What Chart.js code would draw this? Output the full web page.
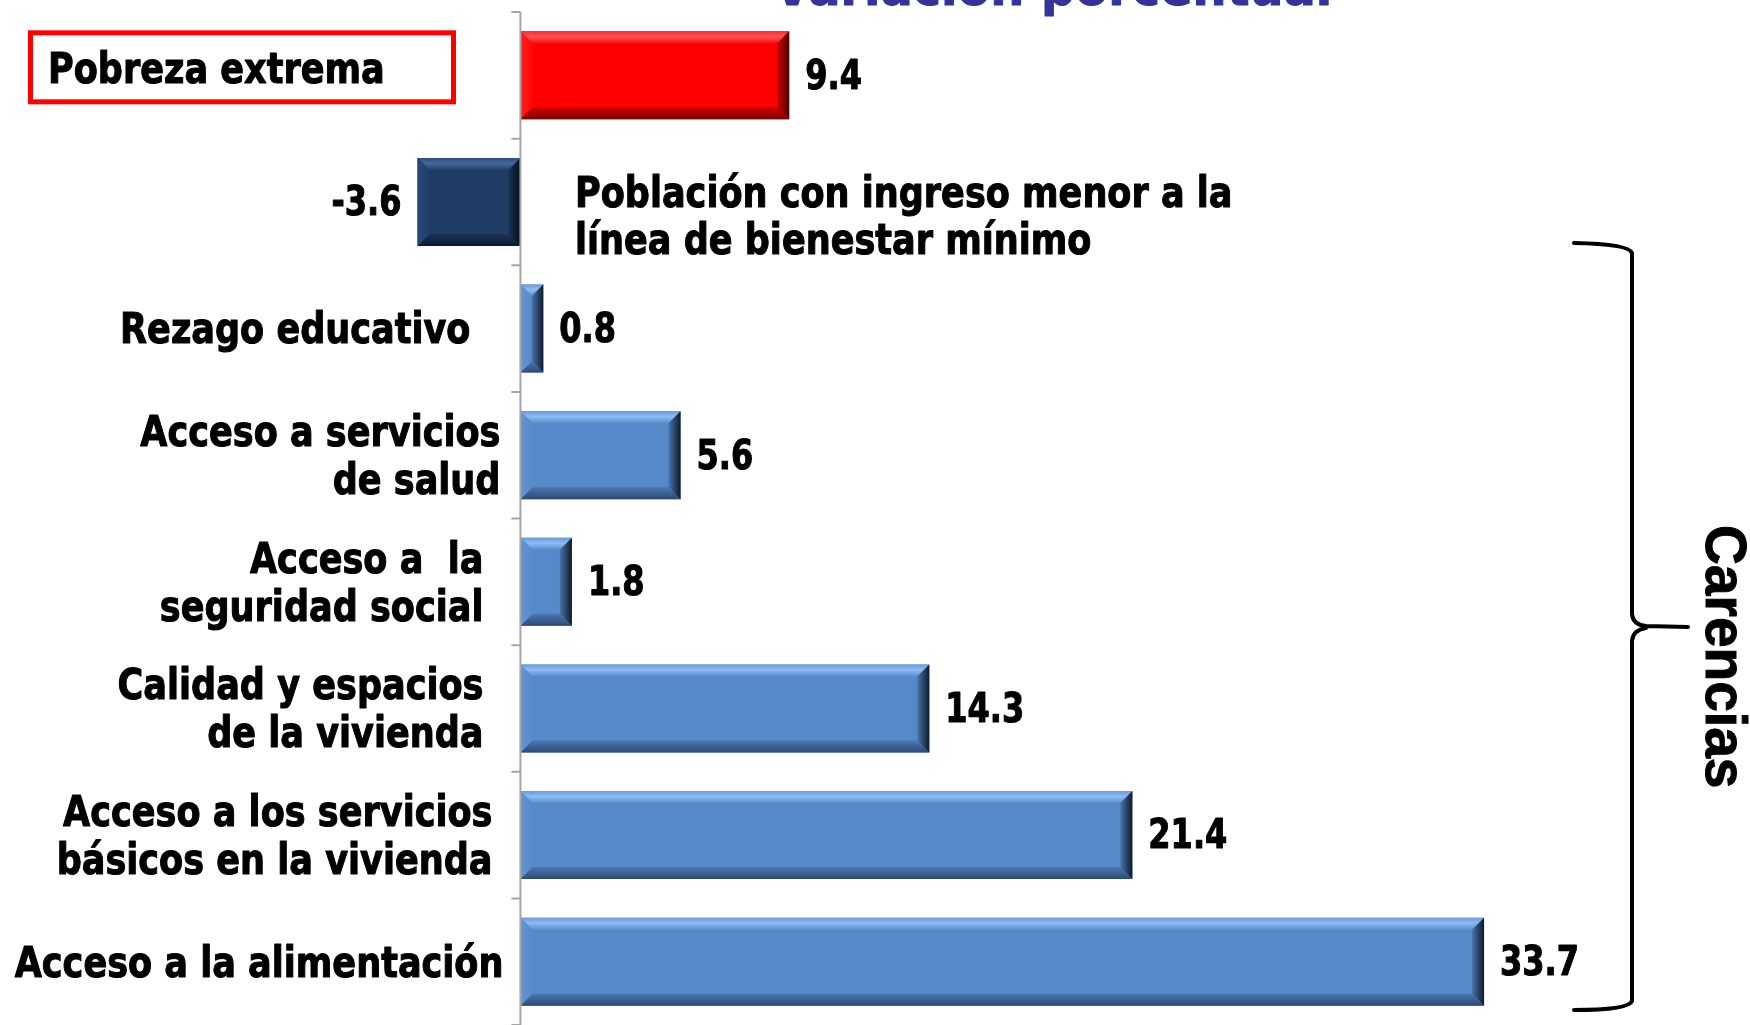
<!DOCTYPE html>
<html>
<head>
<meta charset="utf-8">
<script src="https://cdn.jsdelivr.net/npm/chart.js@4.4.1/dist/chart.umd.min.js"></script>
<style>
  html, body { margin: 0; padding: 0; background: #ffffff; }
  #wrap { width: 1750px; height: 1025px; overflow: hidden; }
</style>
</head>
<body>
<div id="wrap"><canvas id="c" width="1750" height="1025"></canvas></div>
<script>
// ---------------- DATA ----------------
const titleText = "Variación porcentual";
const groupLabel = "Carencias";
const categories = [
  ["Pobreza extrema"],
  ["Población con ingreso menor a la", "línea de bienestar mínimo"],
  ["Rezago educativo"],
  ["Acceso a servicios", "de salud"],
  ["Acceso a  la", "seguridad social"],
  ["Calidad y espacios", "de la vivienda"],
  ["Acceso a los servicios", "básicos en la vivienda"],
  ["Acceso a la alimentación"]
];
const values = [9.4, -3.6, 0.8, 5.6, 1.8, 14.3, 21.4, 33.7];

// ---------------- STYLE ----------------
const kind = ["red", "navy", "blue", "blue", "blue", "blue", "blue", "blue"];
const palettes = {
  blue: { main: "#5589C9", top: ["#6A9AD8", "#8DBBF2", "#5C8ECF"], bot: ["#4A78B2", "#2C4A74"],
          left: ["#6595D3", "#5689C9"], right: ["#4874AC", "#0E1A2A"] },
  red:  { main: "#FF0000", top: ["#FF2A2A", "#FF5555", "#FF0C0C"], bot: ["#D40000", "#780000"],
          left: ["#FF2020", "#FF0606"], right: ["#D00000", "#4A0000"] },
  navy: { main: "#1F3C65", top: ["#2C4D7C", "#47699A", "#22416C"], bot: ["#1A3356", "#0D1B30"],
          left: ["#284877", "#203F69"], right: ["#193150", "#07101C"] }
};
// distance of each category label's right edge from the zero axis
const labelGap = [null, null, 50, 20, 37, 37, 28, 17];
const FONT = '"DejaVu Sans", Verdana, sans-serif';
const LABEL_SX = 0.835;

function drawText(ctx, s, x, y, size, sx, align, color, family, baseline) {
  ctx.save();
  ctx.font = "bold " + size + "px " + (family || FONT);
  ctx.fillStyle = color || "#000";
  ctx.strokeStyle = color || "#000";
  ctx.lineWidth = 1.1;
  ctx.lineJoin = "round";
  ctx.textAlign = align || "left";
  ctx.textBaseline = baseline || "middle";
  ctx.translate(x, y);
  ctx.scale(sx, 1);
  ctx.fillText(s, 0, 0);
  ctx.strokeText(s, 0, 0);
  ctx.restore();
}

function poly(ctx, pts, fill) {
  ctx.beginPath();
  ctx.moveTo(pts[0][0], pts[0][1]);
  for (let k = 1; k < pts.length; k++) ctx.lineTo(pts[k][0], pts[k][1]);
  ctx.closePath();
  ctx.fillStyle = fill;
  ctx.fill();
}

const axisPlugin = {
  id: "axisAndLabels",
  afterDatasetsDraw(chart) {
    const ctx = chart.ctx;
    const xs = chart.scales.x, ys = chart.scales.y;
    const x0 = xs.getPixelForValue(0);
    const half = (ys.getPixelForValue(1) - ys.getPixelForValue(0)) / 2;
    const meta = chart.getDatasetMeta(0);

    // bevels
    meta.data.forEach((el, i) => {
      const p = el.getProps(["x", "y", "base", "height"], true);
      const L = Math.min(p.x, p.base), R = Math.max(p.x, p.base);
      const T = p.y - p.height / 2, B = p.y + p.height / 2;
      const b = Math.min(12, (R - L) / 2, (B - T) / 2);
      const pal = palettes[kind[i]];
      let g = ctx.createLinearGradient(0, T, 0, T + b);
      g.addColorStop(0, pal.top[0]); g.addColorStop(0.45, pal.top[1]); g.addColorStop(1, pal.top[2]);
      poly(ctx, [[L, T], [R, T], [R - b, T + b], [L + b, T + b]], g);
      g = ctx.createLinearGradient(0, B - b, 0, B);
      g.addColorStop(0, pal.bot[0]); g.addColorStop(1, pal.bot[1]);
      poly(ctx, [[L, B], [R, B], [R - b, B - b], [L + b, B - b]], g);
      g = ctx.createLinearGradient(L, 0, L + b, 0);
      g.addColorStop(0, pal.left[0]); g.addColorStop(1, pal.left[1]);
      poly(ctx, [[L, T], [L + b, T + b], [L + b, B - b], [L, B]], g);
      g = ctx.createLinearGradient(R - b, 0, R, 0);
      g.addColorStop(0, pal.right[0]); g.addColorStop(1, pal.right[1]);
      poly(ctx, [[R, T], [R - b, T + b], [R - b, B - b], [R, B]], g);
    });

    // axis line and tick marks
    ctx.save();
    ctx.strokeStyle = "#A6A6A6";
    ctx.lineWidth = 2;
    ctx.beginPath();
    ctx.moveTo(x0, ys.getPixelForValue(0) - half);
    ctx.lineTo(x0, ys.getPixelForValue(categories.length - 1) + half);
    for (let k = 0; k <= categories.length; k++) {
      const yy = ys.getPixelForValue(0) - half + k * 2 * half;
      ctx.moveTo(x0 - 9, yy);
      ctx.lineTo(x0, yy);
    }
    ctx.stroke();
    ctx.restore();

    // value labels
    meta.data.forEach((el, i) => {
      const p = el.getProps(["x", "y"], true);
      const v = values[i];
      const s = v.toFixed(1);
      if (v >= 0) drawText(ctx, s, p.x + 16, p.y + 3, 40, 0.8, "left");
      else drawText(ctx, s, p.x - 16, p.y + 3, 40, 0.8, "right");
    });

    // category labels
    categories.forEach((lines, i) => {
      const c = ys.getPixelForValue(i);
      if (i === 0) {
        ctx.save();
        ctx.strokeStyle = "#FF0000";
        ctx.lineWidth = 5;
        ctx.strokeRect(30.5, c - 42.5, 423, 69);
        ctx.restore();
        drawText(ctx, lines[0], 48, c - 3, 42, LABEL_SX, "left");
      } else if (i === 1) {
        drawText(ctx, lines[0], 575, c - 6, 42, LABEL_SX, "left");
        drawText(ctx, lines[1], 575, c + 41, 42, LABEL_SX, "left");
      } else {
        const xr = x0 - labelGap[i];
        const n = lines.length;
        lines.forEach((ln, k) => {
          const yy = c + 4 + (k - (n - 1) / 2) * 48;
          drawText(ctx, ln, xr, yy, 42, LABEL_SX, "right");
        });
      }
    });

    // title (cut at top edge)
    drawText(ctx, titleText, 1053, 5, 52, 0.92, "center", "#333399", FONT, "alphabetic");

    // brace
    ctx.save();
    ctx.strokeStyle = "#000";
    ctx.lineWidth = 4;
    ctx.lineCap = "round";
    ctx.lineJoin = "round";
    ctx.beginPath();
    ctx.moveTo(1574, 243);
    ctx.quadraticCurveTo(1629, 244, 1632, 253);
    ctx.lineTo(1632, 614);
    ctx.quadraticCurveTo(1633, 625, 1646, 626);
    ctx.lineTo(1688, 627);
    ctx.moveTo(1646, 628);
    ctx.quadraticCurveTo(1633, 630, 1632, 641);
    ctx.lineTo(1632, 1001);
    ctx.quadraticCurveTo(1629, 1010, 1574, 1010);
    ctx.stroke();
    ctx.restore();

    // group label, rotated
    ctx.save();
    ctx.translate(1706, 525);
    ctx.rotate(Math.PI / 2);
    ctx.scale(0.95, 1);
    ctx.font = 'bold 58px "Liberation Sans", Arial, sans-serif';
    ctx.fillStyle = "#000";
    ctx.strokeStyle = "#000";
    ctx.lineWidth = 1;
    ctx.textAlign = "left";
    ctx.textBaseline = "alphabetic";
    ctx.fillText(groupLabel, 0, 0);
    ctx.strokeText(groupLabel, 0, 0);
    ctx.restore();
  }
};

new Chart(document.getElementById("c"), {
  type: "bar",
  data: {
    labels: categories.map(c => c.join(" ")),
    datasets: [{
      data: values,
      backgroundColor: kind.map(k => palettes[k].main),
      borderWidth: 0,
      barPercentage: 0.695,
      categoryPercentage: 1
    }]
  },
  options: {
    indexAxis: "y",
    responsive: false,
    animation: false,
    layout: { padding: { top: 12, bottom: 0, left: 0, right: 0 } },
    scales: {
      x: { display: false, min: -18.2, max: 43 },
      y: { display: false }
    },
    plugins: { legend: { display: false }, tooltip: { enabled: false } }
  },
  plugins: [axisPlugin]
});
</script>
</body>
</html>
